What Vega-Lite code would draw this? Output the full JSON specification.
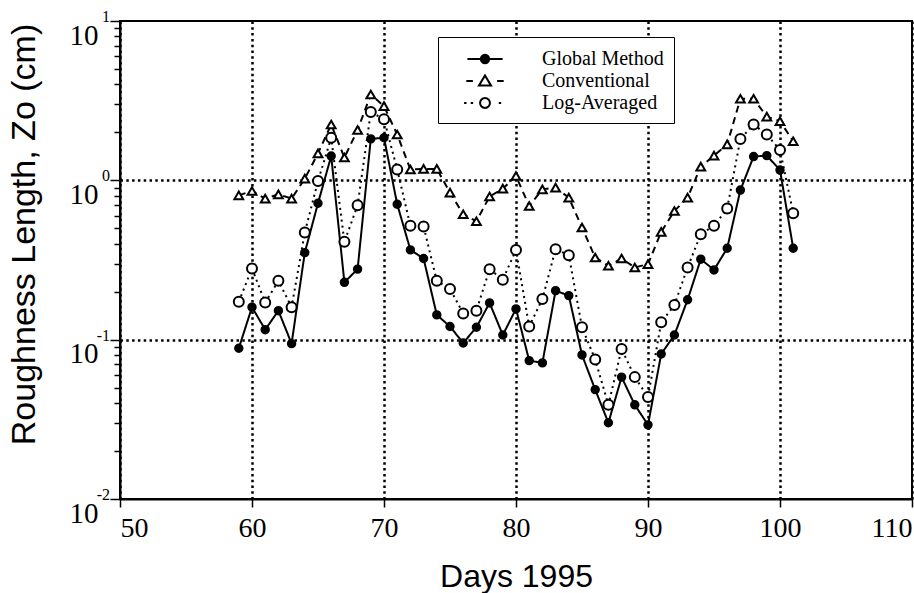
{
  "$schema": "https://vega.github.io/schema/vega-lite/v6.json",
  "width": 792,
  "height": 478,
  "autosize": "none",
  "padding": {"left": 120, "top": 21, "right": 2, "bottom": 94},
  "background": "white",
  "config": {
    "view": {"stroke": "black", "strokeWidth": 2},
    "font": "Liberation Serif"
  },
  "datasets": {
    "zo": [
      {"day":59,"series":"Global Method","zo":0.0883},{"day":60,"series":"Global Method","zo":0.160},{"day":61,"series":"Global Method","zo":0.1155},{"day":62,"series":"Global Method","zo":0.152},{"day":63,"series":"Global Method","zo":0.0944},{"day":64,"series":"Global Method","zo":0.352},{"day":65,"series":"Global Method","zo":0.718},{"day":66,"series":"Global Method","zo":1.42},{"day":67,"series":"Global Method","zo":0.229},{"day":68,"series":"Global Method","zo":0.277},{"day":69,"series":"Global Method","zo":1.82},{"day":70,"series":"Global Method","zo":1.85},{"day":71,"series":"Global Method","zo":0.708},{"day":72,"series":"Global Method","zo":0.366},{"day":73,"series":"Global Method","zo":0.323},{"day":74,"series":"Global Method","zo":0.143},{"day":75,"series":"Global Method","zo":0.121},{"day":76,"series":"Global Method","zo":0.0953},{"day":77,"series":"Global Method","zo":0.1196},{"day":78,"series":"Global Method","zo":0.170},{"day":79,"series":"Global Method","zo":0.107},{"day":80,"series":"Global Method","zo":0.156},{"day":81,"series":"Global Method","zo":0.0739},{"day":82,"series":"Global Method","zo":0.0715},{"day":83,"series":"Global Method","zo":0.203},{"day":84,"series":"Global Method","zo":0.189},{"day":85,"series":"Global Method","zo":0.0802},{"day":86,"series":"Global Method","zo":0.0486},{"day":87,"series":"Global Method","zo":0.0301},{"day":88,"series":"Global Method","zo":0.0582},{"day":89,"series":"Global Method","zo":0.0390},{"day":90,"series":"Global Method","zo":0.0292},{"day":91,"series":"Global Method","zo":0.0813},{"day":92,"series":"Global Method","zo":0.107},{"day":93,"series":"Global Method","zo":0.178},{"day":94,"series":"Global Method","zo":0.320},{"day":95,"series":"Global Method","zo":0.274},{"day":96,"series":"Global Method","zo":0.375},{"day":97,"series":"Global Method","zo":0.869},{"day":98,"series":"Global Method","zo":1.41},{"day":99,"series":"Global Method","zo":1.43},{"day":100,"series":"Global Method","zo":1.16},{"day":101,"series":"Global Method","zo":0.375},
      {"day":59,"series":"Conventional","zo":0.805},{"day":60,"series":"Conventional","zo":0.857},{"day":61,"series":"Conventional","zo":0.768},{"day":62,"series":"Conventional","zo":0.817},{"day":63,"series":"Conventional","zo":0.768},{"day":64,"series":"Conventional","zo":1.025},{"day":65,"series":"Conventional","zo":1.476},{"day":66,"series":"Conventional","zo":2.24},{"day":67,"series":"Conventional","zo":1.39},{"day":68,"series":"Conventional","zo":2.07},{"day":69,"series":"Conventional","zo":3.46},{"day":70,"series":"Conventional","zo":2.92},{"day":71,"series":"Conventional","zo":1.94},{"day":72,"series":"Conventional","zo":1.17},{"day":73,"series":"Conventional","zo":1.18},{"day":74,"series":"Conventional","zo":1.18},{"day":75,"series":"Conventional","zo":0.838},{"day":76,"series":"Conventional","zo":0.612},{"day":77,"series":"Conventional","zo":0.554},{"day":78,"series":"Conventional","zo":0.791},{"day":79,"series":"Conventional","zo":0.887},{"day":80,"series":"Conventional","zo":1.064},{"day":81,"series":"Conventional","zo":0.690},{"day":82,"series":"Conventional","zo":0.878},{"day":83,"series":"Conventional","zo":0.900},{"day":84,"series":"Conventional","zo":0.779},{"day":85,"series":"Conventional","zo":0.506},{"day":86,"series":"Conventional","zo":0.328},{"day":87,"series":"Conventional","zo":0.291},{"day":88,"series":"Conventional","zo":0.323},{"day":89,"series":"Conventional","zo":0.284},{"day":90,"series":"Conventional","zo":0.298},{"day":91,"series":"Conventional","zo":0.475},{"day":92,"series":"Conventional","zo":0.642},{"day":93,"series":"Conventional","zo":0.779},{"day":94,"series":"Conventional","zo":1.22},{"day":95,"series":"Conventional","zo":1.43},{"day":96,"series":"Conventional","zo":1.68},{"day":97,"series":"Conventional","zo":3.25},{"day":98,"series":"Conventional","zo":3.25},{"day":99,"series":"Conventional","zo":2.51},{"day":100,"series":"Conventional","zo":2.35},{"day":101,"series":"Conventional","zo":1.76},
      {"day":59,"series":"Log-Averaged","zo":0.173},{"day":60,"series":"Log-Averaged","zo":0.280},{"day":61,"series":"Log-Averaged","zo":0.171},{"day":62,"series":"Log-Averaged","zo":0.234},{"day":63,"series":"Log-Averaged","zo":0.160},{"day":64,"series":"Log-Averaged","zo":0.471},{"day":65,"series":"Log-Averaged","zo":0.99},{"day":66,"series":"Log-Averaged","zo":1.85},{"day":67,"series":"Log-Averaged","zo":0.411},{"day":68,"series":"Log-Averaged","zo":0.697},{"day":69,"series":"Log-Averaged","zo":2.68},{"day":70,"series":"Log-Averaged","zo":2.42},{"day":71,"series":"Log-Averaged","zo":1.17},{"day":72,"series":"Log-Averaged","zo":0.518},{"day":73,"series":"Log-Averaged","zo":0.513},{"day":74,"series":"Log-Averaged","zo":0.234},{"day":75,"series":"Log-Averaged","zo":0.208},{"day":76,"series":"Log-Averaged","zo":0.146},{"day":77,"series":"Log-Averaged","zo":0.152},{"day":78,"series":"Log-Averaged","zo":0.277},{"day":79,"series":"Log-Averaged","zo":0.238},{"day":80,"series":"Log-Averaged","zo":0.366},{"day":81,"series":"Log-Averaged","zo":0.121},{"day":82,"series":"Log-Averaged","zo":0.180},{"day":83,"series":"Log-Averaged","zo":0.370},{"day":84,"series":"Log-Averaged","zo":0.339},{"day":85,"series":"Log-Averaged","zo":0.1196},{"day":86,"series":"Log-Averaged","zo":0.075},{"day":87,"series":"Log-Averaged","zo":0.039},{"day":88,"series":"Log-Averaged","zo":0.0875},{"day":89,"series":"Log-Averaged","zo":0.0582},{"day":90,"series":"Log-Averaged","zo":0.0436},{"day":91,"series":"Log-Averaged","zo":0.1285},{"day":92,"series":"Log-Averaged","zo":0.165},{"day":93,"series":"Log-Averaged","zo":0.284},{"day":94,"series":"Log-Averaged","zo":0.459},{"day":95,"series":"Log-Averaged","zo":0.518},{"day":96,"series":"Log-Averaged","zo":0.665},{"day":97,"series":"Log-Averaged","zo":1.82},{"day":98,"series":"Log-Averaged","zo":2.24},{"day":99,"series":"Log-Averaged","zo":1.94},{"day":100,"series":"Log-Averaged","zo":1.55},{"day":101,"series":"Log-Averaged","zo":0.622}
    ],
    "exps": [
      {"day":50,"zo":10,"e":"1"},{"day":50,"zo":1,"e":"0"},{"day":50,"zo":0.1,"e":"-1"},{"day":50,"zo":0.01,"e":"-2"}
    ]
  },
  "encoding": {
    "x": {
      "field": "day", "type": "quantitative",
      "scale": {"domain": [50, 110], "nice": false, "zero": false},
      "axis": {
        "values": [50, 60, 70, 80, 90, 100, 110],
        "title": "Days 1995",
        "titleFont": "Liberation Sans", "titleFontSize": 32, "titleFontWeight": "normal", "titleColor": "black",
        "titlePadding": 19,
        "labelFont": "Liberation Serif", "labelFontSize": 28, "labelColor": "black", "labelPadding": 7,
        "labelFlush": true, "labelOverlap": false,
        "tickSize": 8, "tickColor": "black", "tickWidth": 1.5,
        "domainColor": "black", "domainWidth": 2,
        "grid": true, "gridColor": "black", "gridDash": [2.5, 3.3], "gridWidth": 2.5, "gridOpacity": 1
      }
    },
    "y": {
      "field": "zo", "type": "quantitative",
      "scale": {"type": "log", "domain": [0.01, 10], "nice": false},
      "axis": {
        "values": [0.01,0.02,0.03,0.04,0.05,0.06,0.07,0.08,0.09,0.1,0.2,0.3,0.4,0.5,0.6,0.7,0.8,0.9,1,2,3,4,5,6,7,8,9,10],
        "labelExpr": "(datum.value == 0.01 || datum.value == 0.1 || datum.value == 1 || datum.value == 10) ? '10' : ''",
        "title": "Roughness Length, Zo (cm)",
        "titleFont": "Liberation Sans", "titleFontSize": 34, "titleFontWeight": "normal", "titleColor": "black",
        "titlePadding": 28, "titleY": 213,
        "labelFont": "Liberation Serif", "labelFontSize": 29, "labelColor": "black",
        "labelPadding": 12, "labelOffset": 14, "labelBaseline": "middle",
        "labelFlush": false, "labelOverlap": false, "labelBound": false,
        "tickColor": "black", "tickWidth": 1.5,
        "tickSize": {"condition": {"test": "datum.value == 0.01 || datum.value == 0.1 || datum.value == 1 || datum.value == 10", "value": 10}, "value": 6},
        "domainColor": "black", "domainWidth": 2,
        "grid": true, "gridColor": "black", "gridDash": [2.5, 3.3], "gridWidth": 2.5,
        "gridOpacity": {"condition": {"test": "datum.value == 1 || datum.value == 0.1", "value": 1}, "value": 0}
      }
    }
  },
  "layer": [
    {
      "data": {"name": "zo"},
      "mark": {"type": "line", "color": "black", "strokeWidth": 2},
      "encoding": {
        "strokeDash": {
          "field": "series", "type": "nominal",
          "scale": {"domain": ["Global Method", "Conventional", "Log-Averaged"], "range": [[1, 0], [7, 5], [2, 4]]},
          "legend": null
        }
      }
    },
    {
      "data": {"name": "zo"},
      "mark": {"type": "point", "filled": true, "stroke": "black", "strokeWidth": 2, "opacity": 1},
      "encoding": {
        "shape": {
          "field": "series", "type": "nominal",
          "scale": {"domain": ["Global Method", "Conventional", "Log-Averaged"], "range": ["circle", "triangle-up", "circle"]},
          "legend": null
        },
        "fill": {
          "field": "series", "type": "nominal",
          "scale": {"domain": ["Global Method", "Conventional", "Log-Averaged"], "range": ["black", "white", "white"]},
          "legend": null
        },
        "size": {
          "field": "series", "type": "nominal",
          "scale": {"domain": ["Global Method", "Conventional", "Log-Averaged"], "range": [55, 100, 75]},
          "legend": null
        }
      }
    },
    {
      "data": {"name": "zo"},
      "mark": {"type": "point", "filled": false, "stroke": "black", "strokeWidth": 2, "opacity": 0},
      "encoding": {
        "shape": {
          "field": "series", "type": "nominal",
          "scale": {
            "domain": ["Global Method", "Conventional", "Log-Averaged"],
            "range": [
              "M-1.6,0H1.6M-0.38,0A0.38,0.38,0,1,0,0.38,0A0.38,0.38,0,1,0,-0.38,0ZM-0.22,0A0.22,0.22,0,1,0,0.22,0A0.22,0.22,0,1,0,-0.22,0ZM-0.08,0A0.08,0.08,0,1,0,0.08,0A0.08,0.08,0,1,0,-0.08,0Z",
              "M-1.7,0H-1.1M1.1,0H1.7M0,-0.5L0.55,0.42L-0.55,0.42Z",
              "M-1.9,0H-1.68M-1.3,0H-1.08M1.25,0H1.47M-0.45,0A0.45,0.45,0,1,0,0.45,0A0.45,0.45,0,1,0,-0.45,0Z"
            ]
          },
          "legend": {
            "orient": "none", "legendX": 318, "legendY": 16, "title": null, "direction": "vertical",
            "strokeColor": "black", "fillColor": "white", "padding": 10, "rowPadding": 0,
            "symbolSize": 484, "symbolStrokeWidth": 2, "symbolStrokeColor": "black", "symbolOffset": 25, "symbolOpacity": 1,
            "labelOffset": 45, "labelFont": "Liberation Serif", "labelFontSize": 20, "labelColor": "black", "labelLimit": 300,
            "encode": {
              "legend": {"strokeWidth": {"value": 2}},
              "symbols": {
                "opacity": {"value": 1},
                "stroke": {"value": "black"},
                "strokeWidth": {"value": 2},
                "fill": {"value": "white"}
              }
            }
          }
        }
      }
    },
    {
      "data": {"name": "exps"},
      "mark": {"type": "text", "align": "right", "baseline": "middle", "dx": -10, "dy": -4, "font": "Liberation Serif", "fontSize": 16, "color": "black"},
      "encoding": {
        "text": {"field": "e", "type": "nominal"}
      }
    }
  ],
  "resolve": {"scale": {"shape": "independent", "fill": "independent", "size": "independent"}}
}
